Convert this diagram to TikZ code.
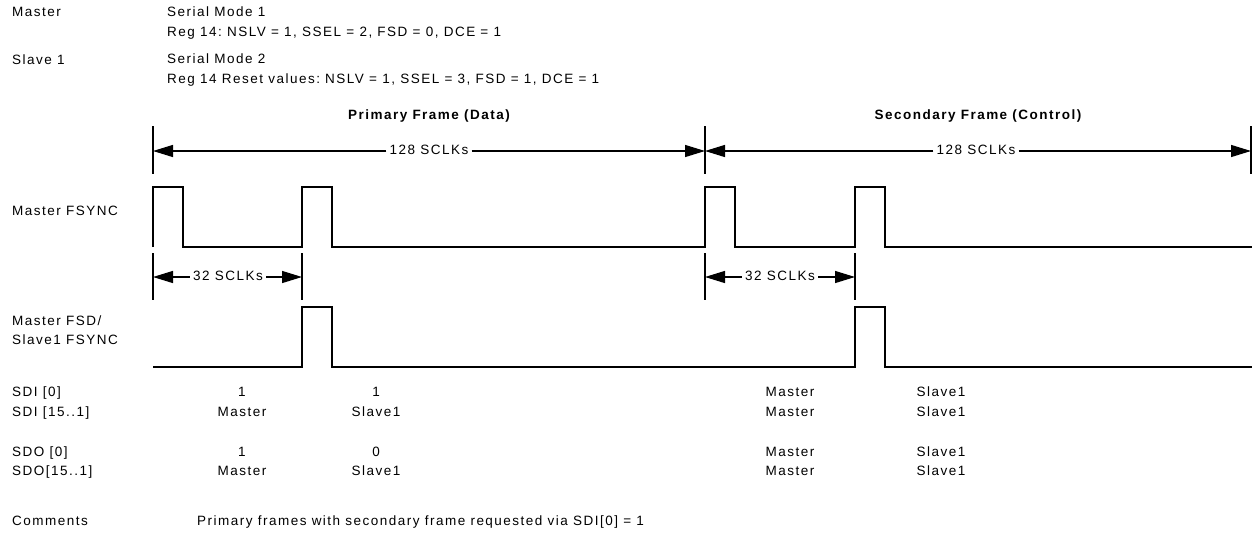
\documentclass[tikz,border=0pt]{standalone}
\usepackage{fontspec}
\setmainfont{Liberation Sans}[LetterSpace=11]
\usetikzlibrary{arrows.meta}

\begin{document}
\frenchspacing
\begin{tikzpicture}[x=1pt,y=-1pt,
  txt/.style={inner sep=0pt,text height=9.5pt,text depth=2.5pt,font=\fontsize{13.5}{15}\selectfont},
  lbl/.style={txt,anchor=west},
  ttl/.style={txt,font=\fontsize{13.5}{15}\selectfont\bfseries},
  gap/.style={txt,inner xsep=3pt},
  wave/.style={line width=1.3pt},
  dim/.style={line width=1.3pt,-{Triangle[length=20pt,width=12pt]}}]
\useasboundingbox (0,0) rectangle (1252,536);

% header
\node[lbl] (master) at (12,13) {Master};
\node[lbl] (slave) at (12,61) {Slave 1};
\node[lbl] (mode1) at (167,13) {Serial Mode 1};
\node[lbl] (reg1) at (167,33) {Reg 14: NSLV = 1, SSEL = 2, FSD = 0, DCE = 1};
\node[lbl] (mode2) at (167,60) {Serial Mode 2};
\node[lbl] (reg2) at (167,80) {Reg 14 Reset values: NSLV = 1, SSEL = 3, FSD = 1, DCE = 1};

% frames
\node[ttl] (prim) at (429,116) {Primary Frame (Data)};
\node[ttl] (sec) at (978,116) {Secondary Frame (Control)};
\foreach \x in {153,705,1251} \draw[wave] (\x,126) -- (\x,174);
\coordinate (f0) at (153,151);
\coordinate (f1) at (705,151);
\coordinate (f2) at (1251,151);
\node[gap] (w1) at (429,151) {128 SCLKs};
\node[gap] (w2) at (976,151) {128 SCLKs};
\draw[dim] (w1) -- (f0);
\draw[dim] (w1) -- (f1);
\draw[dim] (w2) -- (f1);
\draw[dim] (w2) -- (f2);

% master fsync
\node[lbl] (mfs) at (12,212) {Master FSYNC};
\draw[wave] (153,247) foreach \x in {153,302,705,855} { -- (\x,247) -- (\x,187) -- (\x+30,187) -- (\x+30,247) } -- (1252,247);

% 32 sclks
\foreach \x in {153,302,705,855} \draw[wave] (\x,253) -- (\x,300);
\coordinate (g0) at (153,277);
\coordinate (g1) at (302,277);
\coordinate (g2) at (705,277);
\coordinate (g3) at (855,277);
\node[gap] (s1) at (228,277) {32 SCLKs};
\node[gap] (s2) at (780,277) {32 SCLKs};
\draw[dim] (s1) -- (g0);
\draw[dim] (s1) -- (g1);
\draw[dim] (s2) -- (g2);
\draw[dim] (s2) -- (g3);

% fsd / slave fsync
\node[lbl] (fsd) at (12,322) {Master FSD/};
\node[lbl] (sfs) at (12,341) {Slave1 FSYNC};
\draw[wave] (153,367) foreach \x in {302,855} { -- (\x,367) -- (\x,307) -- (\x+30,307) -- (\x+30,367) } -- (1252,367);

% data slots
\node[lbl] (sdi0) at (12,393) {SDI [0]};
\node[lbl] (sdi1) at (12,413) {SDI [15..1]};
\node[lbl] (sdo0) at (12,453) {SDO [0]};
\node[lbl] (sdo1) at (12,472) {SDO[15..1]};
\foreach \y/\a/\b in {393/1/1, 413/Master/Slave1, 453/1/0, 472/Master/Slave1} {
  \node[txt] at (242,\y) {\a};
  \node[txt] at (376,\y) {\b};
  \node[txt] at (790,\y) {Master};
  \node[txt] at (941,\y) {Slave1};
}

% comments
\node[lbl] (cmt) at (12,522) {Comments};
\node[lbl] (cmtx) at (197,522) {Primary frames with secondary frame requested via SDI[0] = 1};
\end{tikzpicture}
\end{document}
